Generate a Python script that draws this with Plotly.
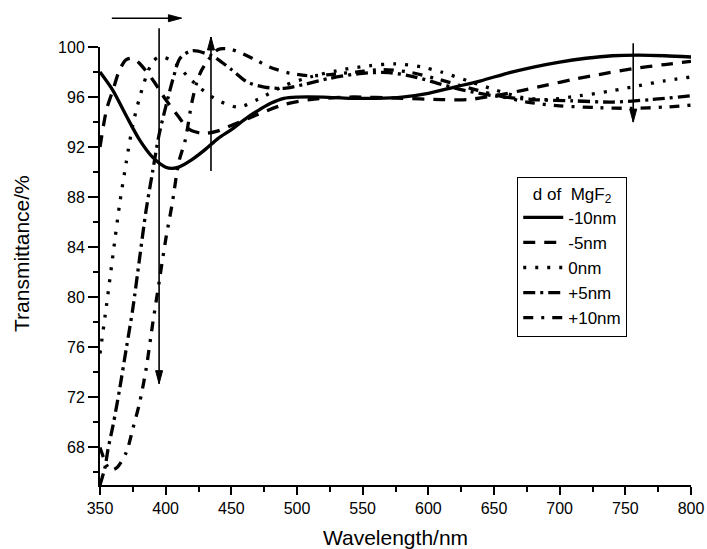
import plotly.graph_objects as go

wl_m10 = [350, 360, 370, 380, 390, 400, 405, 410, 420, 430, 440, 450, 460, 470, 480, 490, 500, 520, 540, 560, 580, 600, 620, 640, 660, 680, 700, 720, 740, 760, 780, 800]
t_m10 = [98.0, 96.5, 94.5, 92.6, 91.2, 90.4, 90.3, 90.4, 91.0, 91.8, 92.7, 93.4, 94.2, 94.9, 95.5, 95.9, 96.0, 96.0, 95.9, 95.9, 96.0, 96.3, 96.8, 97.3, 97.9, 98.4, 98.8, 99.1, 99.3, 99.35, 99.3, 99.2]

wl_m5 = [350, 355, 360, 365, 370, 375, 380, 390, 395, 400, 410, 415, 420, 430, 440, 447, 470, 490, 510, 540, 580, 610, 630, 650, 670, 690, 710, 730, 755, 780, 800]
t_m5 = [92.0, 95.0, 96.6, 98.2, 99.0, 99.1, 98.7, 97.4, 96.6, 95.8, 94.4, 93.7, 93.3, 93.1, 93.3, 93.6, 94.6, 95.4, 95.8, 96.0, 95.9, 95.8, 95.8, 96.1, 96.5, 96.95, 97.4, 97.8, 98.25, 98.6, 98.85]

wl_0 = [350, 355, 360, 365, 370, 375, 380, 385, 390, 395, 405, 420, 437, 455, 470, 490, 510, 530, 555, 575, 595, 610, 630, 650, 670, 690, 715, 740, 760, 780, 800]
t_0 = [75.5, 79.4, 83.5, 87.5, 90.8, 93.8, 95.9, 97.6, 98.8, 99.2, 98.9, 97.3, 95.9, 95.2, 95.8, 96.9, 97.6, 98.1, 98.5, 98.65, 98.4, 98.0, 97.3, 96.6, 96.0, 95.8, 96.1, 96.5, 96.9, 97.3, 97.6]

wl_p5 = [350, 354, 356, 360, 365, 370, 375, 380, 385, 390, 395, 400, 406, 411, 420, 435, 450, 462, 475, 490, 505, 525, 550, 570, 590, 607, 625, 650, 680, 710, 740, 770, 800]
t_p5 = [65.0, 66.5, 67.8, 69.8, 72.7, 75.9, 79.1, 83.0, 86.9, 90.0, 93.0, 95.2, 97.6, 99.1, 99.7, 99.3, 98.2, 97.2, 96.8, 96.7, 97.0, 97.5, 97.9, 97.95, 97.6, 97.1, 96.6, 96.1, 95.8, 95.7, 95.6, 95.8, 96.1]

wl_p10 = [350, 355, 358, 363, 370, 375, 380, 385, 390, 395, 400, 405, 410, 415, 420, 425, 430, 440, 450, 468, 479, 495, 510, 525, 545, 565, 585, 605, 625, 650, 675, 700, 730, 755, 780, 800]
t_p10 = [68.0, 66.6, 66.2, 66.4, 67.6, 69.5, 71.5, 74.2, 77.8, 81.2, 84.6, 87.5, 90.8, 92.6, 95.6, 97.6, 98.6, 99.8, 99.8, 99.0, 98.4, 97.9, 97.7, 97.8, 98.0, 98.2, 98.0, 97.5, 96.9, 96.2, 95.6, 95.3, 95.15, 95.1, 95.2, 95.35]

x_ticks = [350, 400, 450, 500, 550, 600, 650, 700, 750, 800]
y_ticks = [68, 72, 76, 80, 84, 88, 92, 96, 100]
X_RANGE = [350, 800]
Y_RANGE = [65, 100]

series = [
    ("-10nm", wl_m10, t_m10, "solid"),
    ("-5nm", wl_m5, t_m5, "12px,9px"),
    ("0nm", wl_0, t_0, "3px,9px"),
    ("+5nm", wl_p5, t_p5, "12px,5px,3px,5px"),
    ("+10nm", wl_p10, t_p10, "10px,8px,3px,8px"),
]

FONT = "Liberation Sans, Arial, sans-serif"

fig = go.Figure()
for name, x, y, dash in series:
    fig.add_trace(go.Scatter(x=x, y=y, mode="lines", name=name,
                             line=dict(color="black", width=3.3, dash=dash, shape="spline", smoothing=0.8)))

axis_common = dict(showline=True, linecolor="black", linewidth=2, ticks="outside",
                   tickcolor="black", tickwidth=1.5, showgrid=False, zeroline=False,
                   tickfont=dict(family=FONT, size=16, color="black"),
                   mirror=False, automargin=False)

fig.update_layout(
    width=707, height=549,
    margin=dict(l=100, r=16, t=47, b=64, autoexpand=False),
    paper_bgcolor="white", plot_bgcolor="white",
    showlegend=True,
    legend=dict(x=0.706, y=0.704, xanchor="left", yanchor="top",
                bordercolor="black", borderwidth=1, bgcolor="white",
                font=dict(family=FONT, size=17, color="black"),
                title=dict(text="d of  MgF<sub>2</sub>", font=dict(family=FONT, size=17), side="top center"),
                itemwidth=40, tracegroupgap=0),
    xaxis=dict(range=X_RANGE, tickvals=x_ticks, ticklen=8,
               minor=dict(dtick=25, ticks="outside", ticklen=5, tickcolor="black", tickwidth=1.5),
               title=dict(text="Wavelength/nm", font=dict(family=FONT, size=21, color="black"), standoff=14),
               **axis_common),
    yaxis=dict(range=Y_RANGE, tickvals=y_ticks, ticklen=10,
               minor=dict(dtick=2, tick0=66, ticks="outside", ticklen=5, tickcolor="black", tickwidth=1.5),
               **axis_common),
)

# y-axis title placed slightly above the plot centre, as in the reference
fig.add_annotation(text="Transmittance/%", xref="paper", yref="paper",
                   x=-79 / 591, y=(485 - 254) / 438, xanchor="center", yanchor="middle",
                   textangle=-90, showarrow=False,
                   font=dict(family=FONT, size=21, color="black"))


def px(lam):
    return (lam - X_RANGE[0]) / (X_RANGE[1] - X_RANGE[0])


def py(t):
    return (t - Y_RANGE[0]) / (Y_RANGE[1] - Y_RANGE[0])


def arrow(x0, y0, x1, y1):
    X0, Y0, X1, Y1 = px(x0), py(y0), px(x1), py(y1)
    fig.add_shape(type="line", xref="paper", yref="paper", x0=X0, y0=Y0, x1=X1, y1=Y1,
                  line=dict(color="black", width=1.6))
    hw_x, hw_y = 3.5 / 591, 3.5 / 438
    hl_x, hl_y = 13 / 591, 13 / 438
    if x0 == x1:
        d = 1 if y1 > y0 else -1
        path = f"M {X1} {Y1} L {X1 - hw_x} {Y1 - d * hl_y} L {X1 + hw_x} {Y1 - d * hl_y} Z"
    else:
        d = 1 if x1 > x0 else -1
        path = f"M {X1} {Y1} L {X1 - d * hl_x} {Y1 - hw_y} L {X1 - d * hl_x} {Y1 + hw_y} Z"
    fig.add_shape(type="path", xref="paper", yref="paper", path=path,
                  fillcolor="black", line=dict(color="black", width=1))


arrow(359, 102.3, 412, 102.3)
arrow(395, 101.5, 395, 73.1)
arrow(434.5, 90.1, 434.5, 100.8)
arrow(756, 100.3, 756, 94.0)

fig.write_html("out.html", config={"displayModeBar": False},
               post_script="document.body.style.margin='0';document.body.style.overflow='hidden';")
